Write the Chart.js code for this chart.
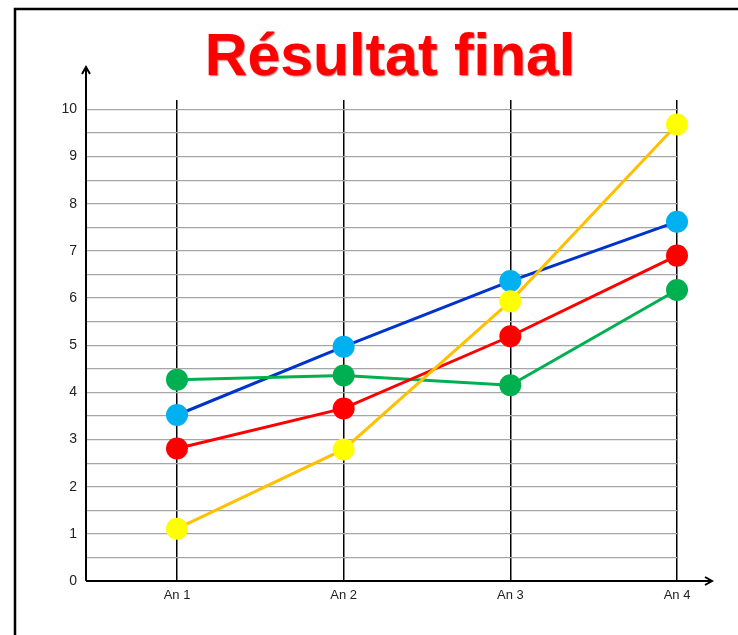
<!DOCTYPE html>
<html lang="fr">
<head>
<meta charset="utf-8">
<title>Résultat final</title>
<script src="https://cdn.jsdelivr.net/npm/chart.js@4.4.0/dist/chart.umd.min.js"></script>
<style>
  html, body { margin: 0; padding: 0; background: #fff; }
  canvas { display: block; }
</style>
</head>
<body>
<canvas id="chart" width="738" height="635"></canvas>
<script>
// Années et scores de chaque série
const annees = ['An 1', 'An 2', 'An 3', 'An 4'];
const serieBleue = [3.52, 4.97, 6.36, 7.62];
const serieVerte = [4.27, 4.36, 4.15, 6.17];
const serieRouge = [2.81, 3.66, 5.19, 6.90];
const serieJaune = [1.11, 2.79, 5.93, 9.68];
const graduations = [0, 1, 2, 3, 4, 5, 6, 7, 8, 9, 10];

const titre = 'Résultat final';

const toPoints = (vals) => vals.map((v, i) => ({ x: i + 1, y: v }));

function serie(vals, ligne, point) {
  return {
    data: toPoints(vals),
    borderColor: ligne,
    borderWidth: 3,
    backgroundColor: point,
    pointBackgroundColor: point,
    pointBorderColor: point,
    pointBorderWidth: 0,
    pointRadius: 11,
    pointHoverRadius: 11,
    tension: 0,
    fill: false,
    clip: false
  };
}

// Cadre, axes fléchés et titre
const decor = {
  id: 'decor',
  beforeDraw(chart) {
    const ctx = chart.ctx;
    ctx.save();
    ctx.fillStyle = '#fff';
    ctx.fillRect(0, 0, chart.width, chart.height);
    ctx.strokeStyle = '#000';
    ctx.lineWidth = 2.5;
    ctx.beginPath();
    ctx.moveTo(15, chart.height);
    ctx.lineTo(15, 9);
    ctx.lineTo(chart.width, 9);
    ctx.stroke();
    ctx.restore();
  },
  beforeDatasetsDraw(chart) {
    const ctx = chart.ctx;
    const y = chart.scales.y;
    const x = chart.scales.x;
    const x0 = x.left;
    const y0 = y.getPixelForValue(0);
    ctx.save();
    ctx.strokeStyle = '#000';
    ctx.lineWidth = 2;
    ctx.beginPath();
    ctx.moveTo(x0, y0);
    ctx.lineTo(x0, 67);
    ctx.moveTo(x0 - 4, 74);
    ctx.lineTo(x0, 67);
    ctx.lineTo(x0 + 4, 74);
    ctx.moveTo(x0, y0);
    ctx.lineTo(712, y0);
    ctx.moveTo(705, y0 - 4);
    ctx.lineTo(712, y0);
    ctx.lineTo(705, y0 + 4);
    ctx.stroke();
    ctx.restore();
  },
  afterDraw(chart) {
    const ctx = chart.ctx;
    ctx.save();
    ctx.font = 'bold 59px "Liberation Sans", Arial, sans-serif';
    ctx.textAlign = 'center';
    ctx.textBaseline = 'alphabetic';
    ctx.shadowColor = 'rgba(110, 0, 0, 0.55)';
    ctx.shadowOffsetX = 1;
    ctx.shadowOffsetY = 1;
    ctx.shadowBlur = 1.5;
    ctx.fillStyle = '#ff0000';
    ctx.fillText(titre, 390, 75);
    ctx.restore();
  }
};

new Chart(document.getElementById('chart'), {
  type: 'line',
  data: {
    datasets: [
      serie(serieJaune, '#ffc000', '#ffff00'),
      serie(serieRouge, '#ff0000', '#ff0000'),
      serie(serieVerte, '#00b050', '#00b050'),
      serie(serieBleue, '#0033cc', '#00b0f0')
    ]
  },
  options: {
    responsive: false,
    animation: false,
    layout: { padding: { top: 100, right: 61, left: 0, bottom: 0 } },
    plugins: {
      legend: { display: false },
      tooltip: { enabled: false },
      title: { display: false }
    },
    scales: {
      x: {
        type: 'linear',
        min: 0.454,
        max: 4,
        afterBuildTicks: (axis) => {
          axis.ticks = annees.map((_, i) => ({ value: i + 1 }));
        },
        afterFit: (axis) => { axis.height = 54; },
        border: { display: false },
        grid: { color: '#000', lineWidth: 1.5, drawTicks: false },
        ticks: {
          padding: 7,
          color: '#222',
          font: { family: '"Liberation Sans", Arial, sans-serif', size: 13 },
          callback: (v) => annees[v - 1] || ''
        }
      },
      y: {
        min: 0,
        max: 10.2,
        afterBuildTicks: (axis) => {
          const t = [];
          for (let v = 0; v <= 10; v += 0.5) t.push({ value: v });
          axis.ticks = t;
        },
        afterFit: (axis) => { axis.width = 86; },
        border: { display: false },
        grid: { color: '#a6a6a6', lineWidth: 1.2, drawTicks: false },
        ticks: {
          padding: 9,
          color: '#222',
          font: { family: '"Liberation Sans", Arial, sans-serif', size: 14 },
          callback: (v) => graduations.includes(v) ? String(v) : ''
        }
      }
    }
  },
  plugins: [decor]
});
</script>
</body>
</html>
